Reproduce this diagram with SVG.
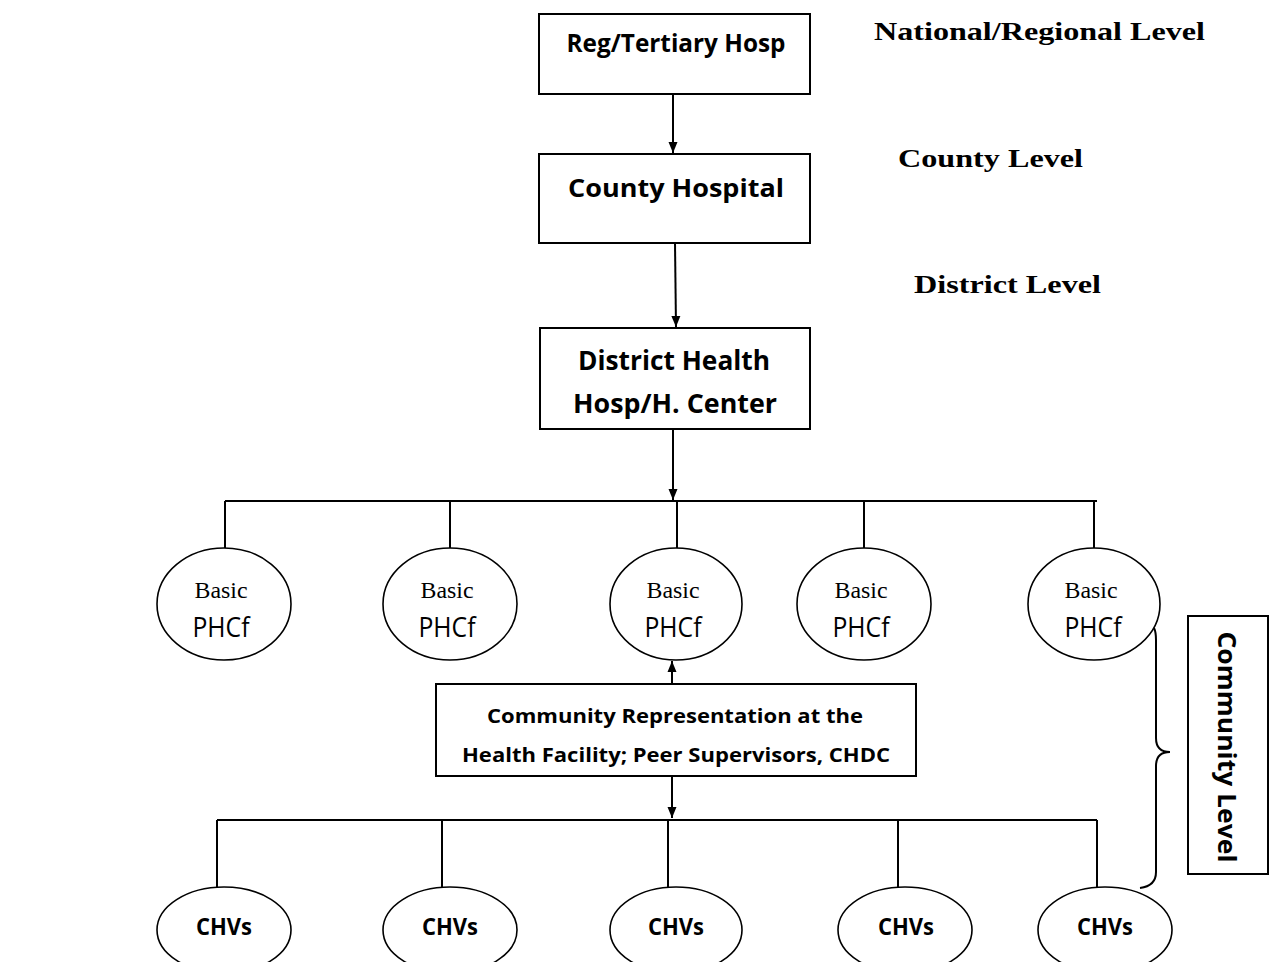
<svg xmlns="http://www.w3.org/2000/svg" width="1269" height="962" viewBox="0 0 1269 962">
<style>
.box{fill:#fff;stroke:#000;stroke-width:2}
.ell{fill:#fff;stroke:#000;stroke-width:1.6}
.ln{stroke:#000;stroke-width:2;fill:none}
.sb{font-family:"Open Sans","Liberation Sans",sans-serif;font-weight:700;fill:#000}
.ss{font-family:"Open Sans","Liberation Sans",sans-serif;fill:#000}
.tb{font-family:"Liberation Serif","Times New Roman",serif;font-weight:700;fill:#000}
.tr{font-family:"Liberation Serif","Times New Roman",serif;fill:#000}
</style>
<defs>
<marker id="ah" markerWidth="12" markerHeight="12" refX="11" refY="5" orient="auto" markerUnits="userSpaceOnUse">
<path d="M0,0.5 L11,5 L0,9.5 Z" fill="#000"/>
</marker>
</defs>
<rect width="1269" height="962" fill="#fff"/>

<g id="labels">
<text class="tb" x="874" y="40" font-size="26" textLength="331" lengthAdjust="spacingAndGlyphs">National/Regional  Level</text>
<text class="tb" x="898" y="167" font-size="26" textLength="185" lengthAdjust="spacingAndGlyphs">County  Level</text>
<text class="tb" x="914" y="293" font-size="26" textLength="187" lengthAdjust="spacingAndGlyphs">District  Level</text>
</g>

<g id="connectors">
<line class="ln" x1="673" y1="94" x2="673" y2="153" marker-end="url(#ah)"/>
<line class="ln" x1="675" y1="243" x2="676" y2="327" marker-end="url(#ah)"/>
<line class="ln" x1="673" y1="429" x2="673" y2="500" marker-end="url(#ah)"/>
<line class="ln" x1="225" y1="501" x2="1097" y2="501"/>
<line class="ln" x1="225" y1="501" x2="225" y2="549"/>
<line class="ln" x1="450" y1="501" x2="450" y2="549"/>
<line class="ln" x1="677" y1="501" x2="677" y2="549"/>
<line class="ln" x1="864" y1="501" x2="864" y2="549"/>
<line class="ln" x1="1094" y1="501" x2="1094" y2="549"/>
<line class="ln" x1="672" y1="684" x2="672" y2="661" marker-end="url(#ah)"/>
<line class="ln" x1="672" y1="776" x2="672" y2="818" marker-end="url(#ah)"/>
<line class="ln" x1="217" y1="820" x2="1097" y2="820"/>
<line class="ln" x1="217" y1="820" x2="217" y2="888"/>
<line class="ln" x1="442" y1="820" x2="442" y2="888"/>
<line class="ln" x1="668" y1="820" x2="668" y2="888"/>
<line class="ln" x1="898" y1="820" x2="898" y2="888"/>
<line class="ln" x1="1097" y1="820" x2="1097" y2="888"/>
<path class="ln" d="M1154,628 Q1156,632 1156,640 L1156,738 Q1156,752 1170,752 Q1156,752 1156,766 L1156,872 Q1156,886 1140,888"/>
</g>

<g id="reg">
<rect class="box" x="539" y="14" width="271" height="80"/>
<text class="sb" x="676" y="52" font-size="25" text-anchor="middle" textLength="219" lengthAdjust="spacingAndGlyphs">Reg/Tertiary Hosp</text>
</g>
<g id="county">
<rect class="box" x="539" y="154" width="271" height="89"/>
<text class="sb" x="676" y="197" font-size="25" text-anchor="middle" textLength="216" lengthAdjust="spacingAndGlyphs">County Hospital</text>
</g>
<g id="district">
<rect class="box" x="540" y="328" width="270" height="101"/>
<text class="sb" x="674" y="370" font-size="26" text-anchor="middle" textLength="192" lengthAdjust="spacingAndGlyphs">District Health</text>
<text class="sb" x="675" y="413" font-size="26" text-anchor="middle" textLength="204" lengthAdjust="spacingAndGlyphs">Hosp/H. Center</text>
</g>

<g id="phcf1"><ellipse class="ell" cx="224" cy="604" rx="67" ry="56"/>
<text class="tr" x="221" y="598" font-size="23" text-anchor="middle" textLength="53" lengthAdjust="spacingAndGlyphs">Basic</text>
<text class="ss" x="221" y="637" font-size="27" text-anchor="middle" textLength="57" lengthAdjust="spacingAndGlyphs">PHCf</text></g>
<g id="phcf2"><ellipse class="ell" cx="450" cy="604" rx="67" ry="56"/>
<text class="tr" x="447" y="598" font-size="23" text-anchor="middle" textLength="53" lengthAdjust="spacingAndGlyphs">Basic</text>
<text class="ss" x="447" y="637" font-size="27" text-anchor="middle" textLength="57" lengthAdjust="spacingAndGlyphs">PHCf</text></g>
<g id="phcf3"><ellipse class="ell" cx="676" cy="604" rx="66" ry="56"/>
<text class="tr" x="673" y="598" font-size="23" text-anchor="middle" textLength="53" lengthAdjust="spacingAndGlyphs">Basic</text>
<text class="ss" x="673" y="637" font-size="27" text-anchor="middle" textLength="57" lengthAdjust="spacingAndGlyphs">PHCf</text></g>
<g id="phcf4"><ellipse class="ell" cx="864" cy="604" rx="67" ry="56"/>
<text class="tr" x="861" y="598" font-size="23" text-anchor="middle" textLength="53" lengthAdjust="spacingAndGlyphs">Basic</text>
<text class="ss" x="861" y="637" font-size="27" text-anchor="middle" textLength="57" lengthAdjust="spacingAndGlyphs">PHCf</text></g>
<g id="phcf5"><ellipse class="ell" cx="1094" cy="604" rx="66" ry="56"/>
<text class="tr" x="1091" y="598" font-size="23" text-anchor="middle" textLength="53" lengthAdjust="spacingAndGlyphs">Basic</text>
<text class="ss" x="1093" y="637" font-size="27" text-anchor="middle" textLength="57" lengthAdjust="spacingAndGlyphs">PHCf</text></g>

<g id="community-rep">
<rect class="box" x="436" y="684" width="480" height="92"/>
<text class="sb" x="675" y="723" font-size="20" text-anchor="middle" textLength="376" lengthAdjust="spacingAndGlyphs">Community Representation at the</text>
<text class="sb" x="676" y="762" font-size="20" text-anchor="middle" textLength="428" lengthAdjust="spacingAndGlyphs">Health Facility;  Peer Supervisors, CHDC</text>
</g>

<g id="chv1"><ellipse class="ell" cx="224" cy="930" rx="67" ry="43"/>
<text class="sb" x="224" y="935" font-size="24" text-anchor="middle" textLength="56" lengthAdjust="spacingAndGlyphs">CHVs</text></g>
<g id="chv2"><ellipse class="ell" cx="450" cy="930" rx="67" ry="43"/>
<text class="sb" x="450" y="935" font-size="24" text-anchor="middle" textLength="56" lengthAdjust="spacingAndGlyphs">CHVs</text></g>
<g id="chv3"><ellipse class="ell" cx="676" cy="930" rx="66" ry="43"/>
<text class="sb" x="676" y="935" font-size="24" text-anchor="middle" textLength="56" lengthAdjust="spacingAndGlyphs">CHVs</text></g>
<g id="chv4"><ellipse class="ell" cx="905" cy="930" rx="67" ry="43"/>
<text class="sb" x="906" y="935" font-size="24" text-anchor="middle" textLength="56" lengthAdjust="spacingAndGlyphs">CHVs</text></g>
<g id="chv5"><ellipse class="ell" cx="1105" cy="930" rx="67" ry="43"/>
<text class="sb" x="1105" y="935" font-size="24" text-anchor="middle" textLength="56" lengthAdjust="spacingAndGlyphs">CHVs</text></g>

<g id="community-level">
<rect class="box" x="1188" y="616" width="80" height="258"/>
<text class="sb" transform="translate(1218,747) rotate(90)" x="0" y="0" font-size="25" text-anchor="middle" textLength="231" lengthAdjust="spacingAndGlyphs">Community Level</text>
</g>
</svg>
